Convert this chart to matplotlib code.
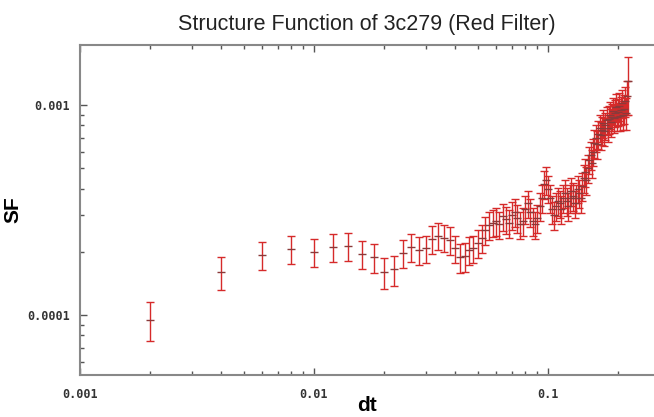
import matplotlib
matplotlib.use("Agg")
import matplotlib.pyplot as plt
from matplotlib.ticker import FixedLocator, FixedFormatter, LogLocator, NullFormatter
from matplotlib.font_manager import FontProperties
import numpy as np

# ---- data ----
step_index = list(range(1, 111))          # dt = 0.002 * k
dt_step = 0.002
sf_e4 = [0.95, 1.60, 1.93, 2.06, 2.00, 2.11, 2.13, 1.95, 1.89, 1.60,
         1.65, 1.97, 2.10, 2.04, 2.08, 2.30, 2.38, 2.33, 2.28, 2.08,
         1.89, 1.90, 2.04, 2.08, 2.20, 2.33, 2.54, 2.68, 2.75, 2.80,
         2.70, 2.95, 2.85, 2.75, 3.00, 3.10, 2.90, 2.70, 2.80, 3.20,
         3.40, 3.10, 2.80, 2.70, 2.90, 3.30, 3.60, 4.20, 4.40, 4.00,
         3.60, 3.20, 3.00, 3.30, 3.50, 3.40, 3.20, 3.60, 3.80, 3.50,
         3.30, 3.60, 3.90, 3.70, 3.40, 3.60, 4.00, 3.80, 3.60, 4.10,
         4.50, 4.80, 4.40, 5.00, 5.50, 5.80, 5.30, 6.00, 6.60, 7.00,
         6.50, 7.30, 7.80, 7.20, 7.60, 8.20, 7.50, 8.00, 8.50, 7.80,
         8.60, 9.00, 8.30, 8.80, 9.40, 8.70, 9.20, 9.80, 8.80, 9.30,
         9.90, 8.90, 9.50, 10.2, 9.00, 9.60, 10.5, 9.20, 11.0, 13.0]
err_e4 = [0.20, 0.28, 0.30, 0.32, 0.30, 0.32, 0.32, 0.30, 0.30, 0.27,
          0.27, 0.30, 0.32, 0.31, 0.31, 0.34, 0.35, 0.34, 0.34, 0.31,
          0.30, 0.30, 0.31, 0.31, 0.33, 0.35, 0.38, 0.40, 0.41, 0.42,
          0.41, 0.44, 0.43, 0.42, 0.45, 0.47, 0.44, 0.41, 0.42, 0.48,
          0.51, 0.47, 0.42, 0.41, 0.44, 0.50, 0.54, 0.63, 0.66, 0.60,
          0.54, 0.48, 0.45, 0.50, 0.53, 0.51, 0.48, 0.54, 0.57, 0.53,
          0.50, 0.54, 0.59, 0.56, 0.51, 0.54, 0.60, 0.57, 0.54, 0.62,
          0.68, 0.72, 0.66, 0.75, 0.83, 0.87, 0.80, 0.90, 0.99, 1.05,
          0.98, 1.10, 1.17, 1.08, 1.14, 1.23, 1.13, 1.20, 1.28, 1.17,
          1.29, 1.35, 1.25, 1.32, 1.41, 1.31, 1.38, 1.47, 1.32, 1.40,
          1.49, 1.34, 1.43, 1.53, 1.40, 1.50, 1.70, 1.60, 2.00, 4.00]

x_major = [0.001, 0.01, 0.1]
x_major_labels = ["0.001", "0.01", "0.1"]
y_major = [0.0001, 0.001]
y_major_labels = ["0.0001", "0.001"]

title = "Structure Function of 3c279 (Red Filter)"

dt = np.array(step_index) * dt_step
sf = np.array(sf_e4) * 1e-4
err = np.array(err_e4) * 1e-4

W, H = 654, 417
fig = plt.figure(figsize=(W / 100, H / 100), dpi=100)
ax = fig.add_axes([80 / W, 1 - 375 / H, (W - 80) / W, (375 - 45) / H])

ax.errorbar(dt, sf, yerr=err, fmt='none', ecolor='#d62a2a', elinewidth=1.0,
            capsize=3, capthick=1.0, zorder=2)
ax.plot(dt, sf, linestyle='none', marker='_', markersize=6, color='#8a3a3a',
        markeredgewidth=1.0, zorder=3)

ax.set_xscale('log')
ax.set_yscale('log')
ax.set_xlim(1e-3, 10 ** (-1 + 106 / 234))
ax.set_ylim(10 ** (-4 - 60 / 210), 10 ** (-3 + 60 / 210))

mono = FontProperties(family='DejaVu Sans Mono', weight='bold', size=8.5)
ax.xaxis.set_major_locator(FixedLocator(x_major))
ax.xaxis.set_major_formatter(FixedFormatter(x_major_labels))
ax.yaxis.set_major_locator(FixedLocator(y_major))
ax.yaxis.set_major_formatter(FixedFormatter(y_major_labels))
ax.xaxis.set_minor_locator(LogLocator(base=10, subs=np.arange(2, 10)))
ax.yaxis.set_minor_locator(LogLocator(base=10, subs=np.arange(2, 10)))
ax.xaxis.set_minor_formatter(NullFormatter())
ax.yaxis.set_minor_formatter(NullFormatter())
for lab in ax.get_xticklabels() + ax.get_yticklabels():
    lab.set_fontproperties(mono)
    lab.set_color('#333333')

ax.tick_params(which='both', direction='in', top=True, right=False,
               color='#555555', width=1.0)
ax.tick_params(which='major', length=5)
ax.tick_params(which='minor', length=3)
ax.tick_params(axis='x', which='major', pad=9)
ax.tick_params(axis='y', which='major', pad=7)

for s in ['left', 'bottom', 'top']:
    ax.spines[s].set_color('#888888')
    ax.spines[s].set_linewidth(1.5)
ax.spines['right'].set_visible(False)

ax.set_xlabel('dt', family='Liberation Sans', weight='bold', fontsize=15, labelpad=-3)
ax.set_ylabel('SF', family='Liberation Sans', weight='bold', fontsize=15)
ax.yaxis.set_label_coords((22 - 80) / (W - 80), 0.5)
ax.set_title(title, family='Liberation Sans', fontsize=15.5, pad=11, color='#222222')

fig.savefig('out.png', dpi=100)
